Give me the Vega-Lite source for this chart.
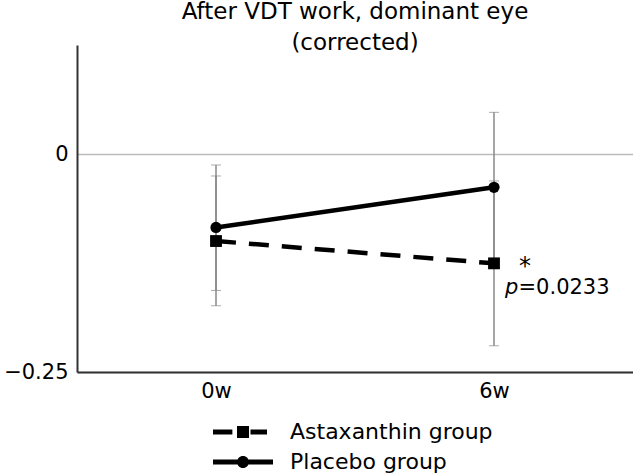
{
  "$schema": "https://vega.github.io/schema/vega-lite/v6.json",
  "width": 556,
  "height": 327,
  "autosize": "none",
  "padding": {"left": 77, "top": 45, "right": 0, "bottom": 104},
  "background": "white",
  "config": {
    "font": "DejaVu Sans",
    "view": {"stroke": null},
    "axisX": {"title": null, "labelAngle": 0, "ticks": false, "domainColor": "#333", "domainWidth": 2, "labelFontSize": 21, "labelColor": "black", "labelPadding": 8, "grid": false},
    "axisY": {"title": null, "ticks": false, "domainColor": "#333", "domainWidth": 2, "labelFontSize": 21, "labelColor": "black", "labelPadding": 9, "grid": true, "gridColor": "#bbb", "gridWidth": 1.5}
  },
  "title": {
    "text": ["After VDT work, dominant eye", "(corrected)"],
    "fontSize": 23,
    "fontWeight": "normal",
    "font": "DejaVu Sans",
    "color": "black",
    "lineHeight": 31,
    "offset": -10
  },
  "data": {
    "values": [
      {"time": "0w", "group": "Astaxanthin group", "mean": -0.0998, "lo": -0.174, "hi": -0.0252},
      {"time": "6w", "group": "Astaxanthin group", "mean": -0.1254, "lo": -0.2199, "hi": -0.0309},
      {"time": "0w", "group": "Placebo group", "mean": -0.0842, "lo": -0.1565, "hi": -0.0126},
      {"time": "6w", "group": "Placebo group", "mean": -0.0382, "lo": -0.1242, "hi": 0.0478}
    ]
  },
  "encoding": {
    "x": {"field": "time", "type": "ordinal", "scale": {"type": "point", "padding": 0.5}, "title": null}
  },
  "layer": [
    {
      "mark": {"type": "errorbar", "ticks": {"size": 10, "color": "#888", "strokeWidth": 1.5}, "rule": {"color": "#888", "strokeWidth": 1.5}},
      "encoding": {
        "y": {"field": "lo", "type": "quantitative", "title": null, "scale": {"domain": [-0.25, 0.125], "nice": false, "zero": false}, "axis": {"values": [-0.25, 0], "format": ".2~f"}},
        "y2": {"field": "hi"}
      }
    },
    {
      "transform": [{"filter": "datum.group === 'Astaxanthin group'"}],
      "mark": {"type": "line", "color": "black", "strokeWidth": 4.5, "strokeDash": [20, 13]},
      "encoding": {
        "y": {"field": "mean", "type": "quantitative", "title": null}
      }
    },
    {
      "transform": [{"filter": "datum.group === 'Placebo group'"}],
      "mark": {"type": "line", "color": "black", "strokeWidth": 4.5},
      "encoding": {
        "y": {"field": "mean", "type": "quantitative", "title": null}
      }
    },
    {
      "transform": [{"filter": "datum.group === 'Astaxanthin group'"}],
      "mark": {"type": "point", "shape": "square", "filled": true, "color": "black", "opacity": 1, "size": 140},
      "encoding": {
        "y": {"field": "mean", "type": "quantitative", "title": null}
      }
    },
    {
      "transform": [{"filter": "datum.group === 'Placebo group'"}],
      "mark": {"type": "point", "shape": "circle", "filled": true, "color": "black", "opacity": 1, "size": 125},
      "encoding": {
        "y": {"field": "mean", "type": "quantitative", "title": null}
      }
    },
    {
      "data": {"values": [{"time": "0w", "group": "Astaxanthin group", "mean": null}, {"time": "0w", "group": "Placebo group", "mean": null}]},
      "mark": {"type": "point", "filled": true, "color": "black", "opacity": 1},
      "encoding": {
        "y": {"field": "mean", "type": "quantitative", "title": null},
        "shape": {
          "field": "group", "type": "nominal",
          "scale": {
            "domain": ["Astaxanthin group", "Placebo group"],
            "range": [
              "M-2.4,-0.2H-0.85V0.2H-2.4Z M-0.48,-0.48H0.48V0.48H-0.48Z M0.6,-0.2H1.92V0.2H0.6Z",
              "M-2.4,-0.2H2.4V0.2H-2.4Z M0.48,0A0.48,0.48 0 1,1 -0.48,0A0.48,0.48 0 1,1 0.48,0Z"
            ]
          },
          "legend": {
            "title": null,
            "orient": "none",
            "legendX": 153.5,
            "legendY": 374.5,
            "padding": 0,
            "labelFontSize": 22,
            "labelColor": "black",
            "labelFont": "DejaVu Sans",
            "labelLimit": 400,
            "symbolSize": 625,
            "symbolFillColor": "black",
            "symbolStrokeColor": "transparent",
            "symbolStrokeWidth": 0,
            "symbolOpacity": 1,
            "labelOffset": 34.5,
            "rowPadding": 6
          }
        }
      }
    },
    {
      "data": {"values": [{"time": "6w", "mean": -0.1254, "label": "*"}]},
      "mark": {"type": "text", "fontSize": 24, "color": "black", "align": "center", "baseline": "middle", "dx": 31, "dy": 4},
      "encoding": {
        "y": {"field": "mean", "type": "quantitative"},
        "text": {"field": "label"}
      }
    },
    {
      "data": {"values": [{"time": "6w", "mean": -0.1254, "label": "p"}]},
      "mark": {"type": "text", "fontSize": 21, "fontStyle": "italic", "color": "black", "align": "left", "baseline": "middle", "dx": 11, "dy": 25},
      "encoding": {
        "y": {"field": "mean", "type": "quantitative"},
        "text": {"field": "label"}
      }
    },
    {
      "data": {"values": [{"time": "6w", "mean": -0.1254, "label": "=0.0233"}]},
      "mark": {"type": "text", "fontSize": 21, "color": "black", "align": "left", "baseline": "middle", "dx": 24.5, "dy": 25},
      "encoding": {
        "y": {"field": "mean", "type": "quantitative"},
        "text": {"field": "label"}
      }
    }
  ]
}
